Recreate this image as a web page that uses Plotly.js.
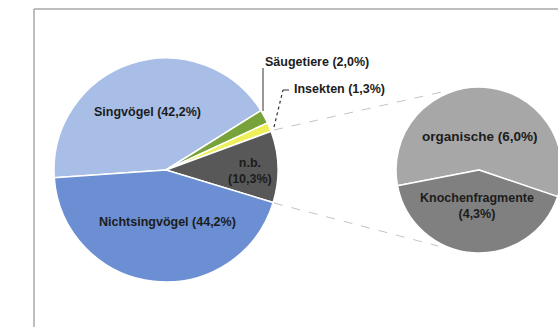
<!DOCTYPE html>
<html>
<head>
<meta charset="utf-8">
<script src="https://cdn.plot.ly/plotly-3.0.1.min.js"></script>
<style>
  html, body { margin: 0; padding: 0; overflow: hidden; background: #ffffff; }
  #chart { width: 570px; height: 327px; }
</style>
</head>
<body>
<div id="chart"></div>
<script>
// Beutetiergruppen (Anteil in %)
const mainLabels = ["Singvögel", "Säugetiere", "Insekten", "n.b.", "Nichtsingvögel"];
const mainValues = [42.2, 2.0, 1.3, 10.3, 44.2];
const mainColors = ["#a8bee6", "#78a23a", "#eef05a", "#585858", "#6b8fd2"];

// Aufteilung von "n.b."
const subLabels = ["organische", "Knochenfragmente"];
const subValues = [6.0, 4.3];
const subColors = ["#a7a7a7", "#808080"];

const W = 570, H = 327;
const px = x => x / W;
const py = y => (H - y) / H;
const fmt = v => v.toFixed(1).replace(".", ",") + "%";
const lbl = (i, arr, vals) => arr[i] + " (" + fmt(vals[i]) + ")";

const font = { family: "Liberation Sans, Arial, sans-serif", size: 12.5, color: "#1c1c1c" };

const traces = [
  {
    type: "pie",
    labels: mainLabels,
    values: mainValues,
    sort: false,
    direction: "clockwise",
    rotation: 266,
    textinfo: "none",
    hoverinfo: "label+percent",
    marker: { colors: mainColors, line: { color: "#ffffff", width: 1.5 } },
    domain: { x: [px(54), px(278)], y: [py(282), py(58)] },
    showlegend: false
  },
  {
    type: "pie",
    labels: subLabels,
    values: subValues,
    sort: false,
    direction: "clockwise",
    rotation: 259,
    textinfo: "none",
    hoverinfo: "label+value",
    marker: { colors: subColors, line: { color: "#ffffff", width: 1.5 } },
    domain: { x: [px(396), px(562)], y: [py(253), py(87)] },
    showlegend: false
  }
];

const ann = (x, y, text, size) => ({
  x: px(x), y: py(y), xref: "paper", yref: "paper",
  text: "<b>" + text + "</b>", showarrow: false,
  font: Object.assign({}, font, size ? { size: size } : {}),
  xanchor: "center", yanchor: "middle", align: "center"
});

const annotations = [
  ann(148, 112, lbl(0, mainLabels, mainValues)),
  ann(317, 62, lbl(1, mainLabels, mainValues)),
  Object.assign(ann(292, 89, lbl(2, mainLabels, mainValues)), { xanchor: "left" }),
  ann(250, 171, mainLabels[3] + "<br>(" + fmt(mainValues[3]) + ")"),
  ann(167, 222, lbl(4, mainLabels, mainValues)),
  ann(480, 136, lbl(0, subLabels, subValues), 13.5),
  ann(477, 206, subLabels[1] + "<br>(" + fmt(subValues[1]) + ")")
];

const line = (x0, y0, x1, y1, color, dash, width) => ({
  type: "line", xref: "paper", yref: "paper",
  x0: px(x0), y0: py(y0), x1: px(x1), y1: py(y1),
  line: { color: color, dash: dash, width: width }
});

const shapes = [
  // Rahmen
  line(34, 9, W, 9, "#a9a9a9", "solid", 1.5),
  line(34, 9, 34, H, "#a9a9a9", "solid", 1.5),
  // Verbindungslinien zum Unterdiagramm
  line(274, 130, 446, 91, "#c4c4c4", "dash", 1),
  line(274, 203, 438, 246, "#c4c4c4", "dash", 1),
  // Führungslinien
  line(263, 111, 263, 68, "#333333", "solid", 1),
  line(274, 127, 283, 90, "#333333", "dot", 1.2),
  line(283, 90, 289, 90, "#333333", "solid", 1)
];

const layout = {
  width: W, height: H,
  margin: { l: 0, r: 0, t: 0, b: 0 },
  paper_bgcolor: "#ffffff",
  plot_bgcolor: "#ffffff",
  annotations: annotations,
  shapes: shapes,
  showlegend: false
};

Plotly.newPlot("chart", traces, layout, { displayModeBar: false, staticPlot: true });
</script>
</body>
</html>
